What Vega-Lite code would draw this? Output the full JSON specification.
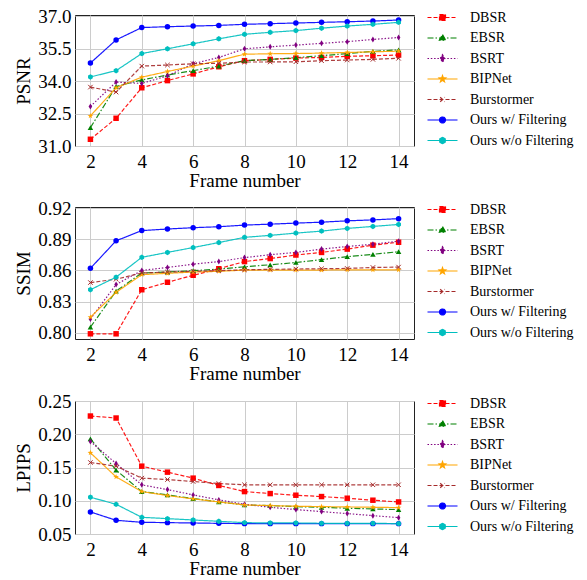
{
"$schema": "https://vega.github.io/schema/vega-lite/v6.json",
"padding": {"left": 14, "top": 6, "right": 16, "bottom": 2},
"background": "white",
"datasets": {"d": [
{"m":"PSNR","s":"DBSR","f":2,"v":31.31},{"m":"PSNR","s":"DBSR","f":3,"v":32.28},{"m":"PSNR","s":"DBSR","f":4,"v":33.69},{"m":"PSNR","s":"DBSR","f":5,"v":34.02},{"m":"PSNR","s":"DBSR","f":6,"v":34.33},{"m":"PSNR","s":"DBSR","f":7,"v":34.66},{"m":"PSNR","s":"DBSR","f":8,"v":34.94},{"m":"PSNR","s":"DBSR","f":9,"v":35.0},{"m":"PSNR","s":"DBSR","f":10,"v":35.06},{"m":"PSNR","s":"DBSR","f":11,"v":35.09},{"m":"PSNR","s":"DBSR","f":12,"v":35.14},{"m":"PSNR","s":"DBSR","f":13,"v":35.17},{"m":"PSNR","s":"DBSR","f":14,"v":35.2},
{"m":"PSNR","s":"EBSR","f":2,"v":31.85},{"m":"PSNR","s":"EBSR","f":3,"v":33.75},{"m":"PSNR","s":"EBSR","f":4,"v":34.05},{"m":"PSNR","s":"EBSR","f":5,"v":34.28},{"m":"PSNR","s":"EBSR","f":6,"v":34.48},{"m":"PSNR","s":"EBSR","f":7,"v":34.69},{"m":"PSNR","s":"EBSR","f":8,"v":34.94},{"m":"PSNR","s":"EBSR","f":9,"v":35.0},{"m":"PSNR","s":"EBSR","f":10,"v":35.08},{"m":"PSNR","s":"EBSR","f":11,"v":35.17},{"m":"PSNR","s":"EBSR","f":12,"v":35.27},{"m":"PSNR","s":"EBSR","f":13,"v":35.37},{"m":"PSNR","s":"EBSR","f":14,"v":35.44},
{"m":"PSNR","s":"BSRT","f":2,"v":32.83},{"m":"PSNR","s":"BSRT","f":3,"v":33.95},{"m":"PSNR","s":"BSRT","f":4,"v":33.89},{"m":"PSNR","s":"BSRT","f":5,"v":34.24},{"m":"PSNR","s":"BSRT","f":6,"v":34.8},{"m":"PSNR","s":"BSRT","f":7,"v":35.09},{"m":"PSNR","s":"BSRT","f":8,"v":35.49},{"m":"PSNR","s":"BSRT","f":9,"v":35.58},{"m":"PSNR","s":"BSRT","f":10,"v":35.66},{"m":"PSNR","s":"BSRT","f":11,"v":35.74},{"m":"PSNR","s":"BSRT","f":12,"v":35.82},{"m":"PSNR","s":"BSRT","f":13,"v":35.92},{"m":"PSNR","s":"BSRT","f":14,"v":36.01},
{"m":"PSNR","s":"BIPNet","f":2,"v":32.39},{"m":"PSNR","s":"BIPNet","f":3,"v":33.69},{"m":"PSNR","s":"BIPNet","f":4,"v":34.18},{"m":"PSNR","s":"BIPNet","f":5,"v":34.44},{"m":"PSNR","s":"BIPNet","f":6,"v":34.69},{"m":"PSNR","s":"BIPNet","f":7,"v":34.94},{"m":"PSNR","s":"BIPNet","f":8,"v":35.24},{"m":"PSNR","s":"BIPNet","f":9,"v":35.26},{"m":"PSNR","s":"BIPNet","f":10,"v":35.27},{"m":"PSNR","s":"BIPNet","f":11,"v":35.29},{"m":"PSNR","s":"BIPNet","f":12,"v":35.32},{"m":"PSNR","s":"BIPNet","f":13,"v":35.35},{"m":"PSNR","s":"BIPNet","f":14,"v":35.38},
{"m":"PSNR","s":"Burstormer","f":2,"v":33.72},{"m":"PSNR","s":"Burstormer","f":3,"v":33.49},{"m":"PSNR","s":"Burstormer","f":4,"v":34.69},{"m":"PSNR","s":"Burstormer","f":5,"v":34.74},{"m":"PSNR","s":"Burstormer","f":6,"v":34.8},{"m":"PSNR","s":"Burstormer","f":7,"v":34.82},{"m":"PSNR","s":"Burstormer","f":8,"v":34.88},{"m":"PSNR","s":"Burstormer","f":9,"v":34.88},{"m":"PSNR","s":"Burstormer","f":10,"v":34.89},{"m":"PSNR","s":"Burstormer","f":11,"v":34.94},{"m":"PSNR","s":"Burstormer","f":12,"v":34.97},{"m":"PSNR","s":"Burstormer","f":13,"v":35.0},{"m":"PSNR","s":"Burstormer","f":14,"v":35.05},
{"m":"PSNR","s":"Ours w/ Filtering","f":2,"v":34.83},{"m":"PSNR","s":"Ours w/ Filtering","f":3,"v":35.9},{"m":"PSNR","s":"Ours w/ Filtering","f":4,"v":36.47},{"m":"PSNR","s":"Ours w/ Filtering","f":5,"v":36.51},{"m":"PSNR","s":"Ours w/ Filtering","f":6,"v":36.54},{"m":"PSNR","s":"Ours w/ Filtering","f":7,"v":36.57},{"m":"PSNR","s":"Ours w/ Filtering","f":8,"v":36.62},{"m":"PSNR","s":"Ours w/ Filtering","f":9,"v":36.65},{"m":"PSNR","s":"Ours w/ Filtering","f":10,"v":36.68},{"m":"PSNR","s":"Ours w/ Filtering","f":11,"v":36.71},{"m":"PSNR","s":"Ours w/ Filtering","f":12,"v":36.74},{"m":"PSNR","s":"Ours w/ Filtering","f":13,"v":36.77},{"m":"PSNR","s":"Ours w/ Filtering","f":14,"v":36.82},
{"m":"PSNR","s":"Ours w/o Filtering","f":2,"v":34.19},{"m":"PSNR","s":"Ours w/o Filtering","f":3,"v":34.48},{"m":"PSNR","s":"Ours w/o Filtering","f":4,"v":35.27},{"m":"PSNR","s":"Ours w/o Filtering","f":5,"v":35.49},{"m":"PSNR","s":"Ours w/o Filtering","f":6,"v":35.72},{"m":"PSNR","s":"Ours w/o Filtering","f":7,"v":35.95},{"m":"PSNR","s":"Ours w/o Filtering","f":8,"v":36.16},{"m":"PSNR","s":"Ours w/o Filtering","f":9,"v":36.25},{"m":"PSNR","s":"Ours w/o Filtering","f":10,"v":36.33},{"m":"PSNR","s":"Ours w/o Filtering","f":11,"v":36.44},{"m":"PSNR","s":"Ours w/o Filtering","f":12,"v":36.54},{"m":"PSNR","s":"Ours w/o Filtering","f":13,"v":36.62},{"m":"PSNR","s":"Ours w/o Filtering","f":14,"v":36.71},
{"m":"SSIM","s":"DBSR","f":2,"v":0.799},{"m":"SSIM","s":"DBSR","f":3,"v":0.799},{"m":"SSIM","s":"DBSR","f":4,"v":0.8414},{"m":"SSIM","s":"DBSR","f":5,"v":0.8486},{"m":"SSIM","s":"DBSR","f":6,"v":0.8553},{"m":"SSIM","s":"DBSR","f":7,"v":0.8616},{"m":"SSIM","s":"DBSR","f":8,"v":0.8685},{"m":"SSIM","s":"DBSR","f":9,"v":0.8714},{"m":"SSIM","s":"DBSR","f":10,"v":0.8748},{"m":"SSIM","s":"DBSR","f":11,"v":0.8773},{"m":"SSIM","s":"DBSR","f":12,"v":0.8805},{"m":"SSIM","s":"DBSR","f":13,"v":0.8843},{"m":"SSIM","s":"DBSR","f":14,"v":0.8871},
{"m":"SSIM","s":"EBSR","f":2,"v":0.8054},{"m":"SSIM","s":"EBSR","f":3,"v":0.8401},{"m":"SSIM","s":"EBSR","f":4,"v":0.8575},{"m":"SSIM","s":"EBSR","f":5,"v":0.8584},{"m":"SSIM","s":"EBSR","f":6,"v":0.8597},{"m":"SSIM","s":"EBSR","f":7,"v":0.8613},{"m":"SSIM","s":"EBSR","f":8,"v":0.8635},{"m":"SSIM","s":"EBSR","f":9,"v":0.8654},{"m":"SSIM","s":"EBSR","f":10,"v":0.8676},{"m":"SSIM","s":"EBSR","f":11,"v":0.8704},{"m":"SSIM","s":"EBSR","f":12,"v":0.8732},{"m":"SSIM","s":"EBSR","f":13,"v":0.8755},{"m":"SSIM","s":"EBSR","f":14,"v":0.878},
{"m":"SSIM","s":"BSRT","f":2,"v":0.8133},{"m":"SSIM","s":"BSRT","f":3,"v":0.8464},{"m":"SSIM","s":"BSRT","f":4,"v":0.86},{"m":"SSIM","s":"BSRT","f":5,"v":0.8628},{"m":"SSIM","s":"BSRT","f":6,"v":0.866},{"m":"SSIM","s":"BSRT","f":7,"v":0.8685},{"m":"SSIM","s":"BSRT","f":8,"v":0.8723},{"m":"SSIM","s":"BSRT","f":9,"v":0.8751},{"m":"SSIM","s":"BSRT","f":10,"v":0.8773},{"m":"SSIM","s":"BSRT","f":11,"v":0.8805},{"m":"SSIM","s":"BSRT","f":12,"v":0.883},{"m":"SSIM","s":"BSRT","f":13,"v":0.8852},{"m":"SSIM","s":"BSRT","f":14,"v":0.8881},
{"m":"SSIM","s":"BIPNet","f":2,"v":0.815},{"m":"SSIM","s":"BIPNet","f":3,"v":0.8389},{"m":"SSIM","s":"BIPNet","f":4,"v":0.8559},{"m":"SSIM","s":"BIPNet","f":5,"v":0.8572},{"m":"SSIM","s":"BIPNet","f":6,"v":0.8584},{"m":"SSIM","s":"BIPNet","f":7,"v":0.8591},{"m":"SSIM","s":"BIPNet","f":8,"v":0.8603},{"m":"SSIM","s":"BIPNet","f":9,"v":0.8603},{"m":"SSIM","s":"BIPNet","f":10,"v":0.8603},{"m":"SSIM","s":"BIPNet","f":11,"v":0.8603},{"m":"SSIM","s":"BIPNet","f":12,"v":0.8606},{"m":"SSIM","s":"BIPNet","f":13,"v":0.8606},{"m":"SSIM","s":"BIPNet","f":14,"v":0.8606},
{"m":"SSIM","s":"Burstormer","f":2,"v":0.8483},{"m":"SSIM","s":"Burstormer","f":3,"v":0.8515},{"m":"SSIM","s":"Burstormer","f":4,"v":0.8575},{"m":"SSIM","s":"Burstormer","f":5,"v":0.8584},{"m":"SSIM","s":"Burstormer","f":6,"v":0.8591},{"m":"SSIM","s":"Burstormer","f":7,"v":0.8597},{"m":"SSIM","s":"Burstormer","f":8,"v":0.8606},{"m":"SSIM","s":"Burstormer","f":9,"v":0.861},{"m":"SSIM","s":"Burstormer","f":10,"v":0.8613},{"m":"SSIM","s":"Burstormer","f":11,"v":0.8616},{"m":"SSIM","s":"Burstormer","f":12,"v":0.8619},{"m":"SSIM","s":"Burstormer","f":13,"v":0.8628},{"m":"SSIM","s":"Burstormer","f":14,"v":0.8632},
{"m":"SSIM","s":"Ours w/ Filtering","f":2,"v":0.862},{"m":"SSIM","s":"Ours w/ Filtering","f":3,"v":0.8885},{"m":"SSIM","s":"Ours w/ Filtering","f":4,"v":0.8983},{"m":"SSIM","s":"Ours w/ Filtering","f":5,"v":0.8998},{"m":"SSIM","s":"Ours w/ Filtering","f":6,"v":0.9011},{"m":"SSIM","s":"Ours w/ Filtering","f":7,"v":0.902},{"m":"SSIM","s":"Ours w/ Filtering","f":8,"v":0.9036},{"m":"SSIM","s":"Ours w/ Filtering","f":9,"v":0.9045},{"m":"SSIM","s":"Ours w/ Filtering","f":10,"v":0.9055},{"m":"SSIM","s":"Ours w/ Filtering","f":11,"v":0.9064},{"m":"SSIM","s":"Ours w/ Filtering","f":12,"v":0.9077},{"m":"SSIM","s":"Ours w/ Filtering","f":13,"v":0.9086},{"m":"SSIM","s":"Ours w/ Filtering","f":14,"v":0.9098},
{"m":"SSIM","s":"Ours w/o Filtering","f":2,"v":0.8414},{"m":"SSIM","s":"Ours w/o Filtering","f":3,"v":0.8535},{"m":"SSIM","s":"Ours w/o Filtering","f":4,"v":0.8726},{"m":"SSIM","s":"Ours w/o Filtering","f":5,"v":0.8773},{"m":"SSIM","s":"Ours w/o Filtering","f":6,"v":0.8820},{"m":"SSIM","s":"Ours w/o Filtering","f":7,"v":0.8868},{"m":"SSIM","s":"Ours w/o Filtering","f":8,"v":0.8918},{"m":"SSIM","s":"Ours w/o Filtering","f":9,"v":0.8937},{"m":"SSIM","s":"Ours w/o Filtering","f":10,"v":0.8959},{"m":"SSIM","s":"Ours w/o Filtering","f":11,"v":0.8978},{"m":"SSIM","s":"Ours w/o Filtering","f":12,"v":0.9004},{"m":"SSIM","s":"Ours w/o Filtering","f":13,"v":0.9023},{"m":"SSIM","s":"Ours w/o Filtering","f":14,"v":0.9042},
{"m":"LPIPS","s":"DBSR","f":2,"v":0.2274},{"m":"LPIPS","s":"DBSR","f":3,"v":0.2244},{"m":"LPIPS","s":"DBSR","f":4,"v":0.152},{"m":"LPIPS","s":"DBSR","f":5,"v":0.143},{"m":"LPIPS","s":"DBSR","f":6,"v":0.134},{"m":"LPIPS","s":"DBSR","f":7,"v":0.123},{"m":"LPIPS","s":"DBSR","f":8,"v":0.1138},{"m":"LPIPS","s":"DBSR","f":9,"v":0.1108},{"m":"LPIPS","s":"DBSR","f":10,"v":0.1083},{"m":"LPIPS","s":"DBSR","f":11,"v":0.1063},{"m":"LPIPS","s":"DBSR","f":12,"v":0.1038},{"m":"LPIPS","s":"DBSR","f":13,"v":0.1008},{"m":"LPIPS","s":"DBSR","f":14,"v":0.0982},
{"m":"LPIPS","s":"EBSR","f":2,"v":0.1932},{"m":"LPIPS","s":"EBSR","f":3,"v":0.146},{"m":"LPIPS","s":"EBSR","f":4,"v":0.1138},{"m":"LPIPS","s":"EBSR","f":5,"v":0.1088},{"m":"LPIPS","s":"EBSR","f":6,"v":0.1033},{"m":"LPIPS","s":"EBSR","f":7,"v":0.0982},{"m":"LPIPS","s":"EBSR","f":8,"v":0.0937},{"m":"LPIPS","s":"EBSR","f":9,"v":0.0927},{"m":"LPIPS","s":"EBSR","f":10,"v":0.0912},{"m":"LPIPS","s":"EBSR","f":11,"v":0.0902},{"m":"LPIPS","s":"EBSR","f":12,"v":0.0887},{"m":"LPIPS","s":"EBSR","f":13,"v":0.0877},{"m":"LPIPS","s":"EBSR","f":14,"v":0.0867},
{"m":"LPIPS","s":"BSRT","f":2,"v":0.1892},{"m":"LPIPS","s":"BSRT","f":3,"v":0.156},{"m":"LPIPS","s":"BSRT","f":4,"v":0.1239},{"m":"LPIPS","s":"BSRT","f":5,"v":0.1168},{"m":"LPIPS","s":"BSRT","f":6,"v":0.1088},{"m":"LPIPS","s":"BSRT","f":7,"v":0.1013},{"m":"LPIPS","s":"BSRT","f":8,"v":0.0947},{"m":"LPIPS","s":"BSRT","f":9,"v":0.0902},{"m":"LPIPS","s":"BSRT","f":10,"v":0.0867},{"m":"LPIPS","s":"BSRT","f":11,"v":0.0837},{"m":"LPIPS","s":"BSRT","f":12,"v":0.0807},{"m":"LPIPS","s":"BSRT","f":13,"v":0.0776},{"m":"LPIPS","s":"BSRT","f":14,"v":0.0746},
{"m":"LPIPS","s":"BIPNet","f":2,"v":0.1721},{"m":"LPIPS","s":"BIPNet","f":3,"v":0.1359},{"m":"LPIPS","s":"BIPNet","f":4,"v":0.1138},{"m":"LPIPS","s":"BIPNet","f":5,"v":0.1078},{"m":"LPIPS","s":"BIPNet","f":6,"v":0.1028},{"m":"LPIPS","s":"BIPNet","f":7,"v":0.0982},{"m":"LPIPS","s":"BIPNet","f":8,"v":0.0937},{"m":"LPIPS","s":"BIPNet","f":9,"v":0.0927},{"m":"LPIPS","s":"BIPNet","f":10,"v":0.0917},{"m":"LPIPS","s":"BIPNet","f":11,"v":0.0912},{"m":"LPIPS","s":"BIPNet","f":12,"v":0.0907},{"m":"LPIPS","s":"BIPNet","f":13,"v":0.0902},{"m":"LPIPS","s":"BIPNet","f":14,"v":0.0897},
{"m":"LPIPS","s":"Burstormer","f":2,"v":0.1575},{"m":"LPIPS","s":"Burstormer","f":3,"v":0.152},{"m":"LPIPS","s":"Burstormer","f":4,"v":0.134},{"m":"LPIPS","s":"Burstormer","f":5,"v":0.1319},{"m":"LPIPS","s":"Burstormer","f":6,"v":0.1289},{"m":"LPIPS","s":"Burstormer","f":7,"v":0.1259},{"m":"LPIPS","s":"Burstormer","f":8,"v":0.124},{"m":"LPIPS","s":"Burstormer","f":9,"v":0.124},{"m":"LPIPS","s":"Burstormer","f":10,"v":0.124},{"m":"LPIPS","s":"Burstormer","f":11,"v":0.124},{"m":"LPIPS","s":"Burstormer","f":12,"v":0.124},{"m":"LPIPS","s":"Burstormer","f":13,"v":0.124},{"m":"LPIPS","s":"Burstormer","f":14,"v":0.124},
{"m":"LPIPS","s":"Ours w/ Filtering","f":2,"v":0.0832},{"m":"LPIPS","s":"Ours w/ Filtering","f":3,"v":0.0706},{"m":"LPIPS","s":"Ours w/ Filtering","f":4,"v":0.0676},{"m":"LPIPS","s":"Ours w/ Filtering","f":5,"v":0.0671},{"m":"LPIPS","s":"Ours w/ Filtering","f":6,"v":0.0666},{"m":"LPIPS","s":"Ours w/ Filtering","f":7,"v":0.066},{"m":"LPIPS","s":"Ours w/ Filtering","f":8,"v":0.0656},{"m":"LPIPS","s":"Ours w/ Filtering","f":9,"v":0.0656},{"m":"LPIPS","s":"Ours w/ Filtering","f":10,"v":0.0656},{"m":"LPIPS","s":"Ours w/ Filtering","f":11,"v":0.0656},{"m":"LPIPS","s":"Ours w/ Filtering","f":12,"v":0.0656},{"m":"LPIPS","s":"Ours w/ Filtering","f":13,"v":0.0656},{"m":"LPIPS","s":"Ours w/ Filtering","f":14,"v":0.0656},
{"m":"LPIPS","s":"Ours w/o Filtering","f":2,"v":0.1053},{"m":"LPIPS","s":"Ours w/o Filtering","f":3,"v":0.0947},{"m":"LPIPS","s":"Ours w/o Filtering","f":4,"v":0.0751},{"m":"LPIPS","s":"Ours w/o Filtering","f":5,"v":0.0731},{"m":"LPIPS","s":"Ours w/o Filtering","f":6,"v":0.0711},{"m":"LPIPS","s":"Ours w/o Filtering","f":7,"v":0.0691},{"m":"LPIPS","s":"Ours w/o Filtering","f":8,"v":0.0671},{"m":"LPIPS","s":"Ours w/o Filtering","f":9,"v":0.0666},{"m":"LPIPS","s":"Ours w/o Filtering","f":10,"v":0.0666},{"m":"LPIPS","s":"Ours w/o Filtering","f":11,"v":0.0661},{"m":"LPIPS","s":"Ours w/o Filtering","f":12,"v":0.0661},{"m":"LPIPS","s":"Ours w/o Filtering","f":13,"v":0.0661},{"m":"LPIPS","s":"Ours w/o Filtering","f":14,"v":0.0656}
]},
"config": {
  "font": "Liberation Serif",
  "view": {"stroke": "#222", "strokeWidth": 1},
  "axis": {"labelFont": "Liberation Serif", "titleFont": "Liberation Serif", "labelFontSize": 19, "titleFontSize": 19, "titleFontWeight": "normal", "labelColor": "#000", "titleColor": "#000", "ticks": false, "labelPadding": 4, "gridColor": "#cccccc", "gridWidth": 1, "domain": false},
  "axisX": {"titlePadding": 0, "labelPadding": 6},
  "axisY": {"titlePadding": 4},
  "legend": {"labelFont": "Liberation Serif", "labelFontSize": 14, "labelColor": "#000", "symbolSize": 225, "symbolStrokeWidth": 1.2, "symbolOpacity": 1, "rowPadding": 4.5, "labelOffset": 19, "offset": 26, "orient": "right", "padding": -6, "labelLimit": 200},
  "concat": {"spacing": 7}
},
"resolve": {"scale": {"y": "independent", "color": "independent", "stroke": "independent", "shape": "independent", "strokeDash": "independent"}, "legend": {"color": "independent", "stroke": "independent", "shape": "independent", "strokeDash": "independent"}},
"vconcat": [
{
 "width": 339, "height": 131,
 "data": {"name": "d"},
 "transform": [{"filter": "datum.m === 'PSNR'"}],
 "encoding": {
  "x": {"field": "f", "type": "quantitative", "scale": {"domain": [1.4, 14.6], "nice": false, "zero": false}, "axis": {"values": [2,4,6,8,10,12,14], "title": "Frame number"}},
  "y": {"field": "v", "type": "quantitative", "scale": {"domain": [31, 37.05], "nice": false, "zero": false}, "axis": {"values": [31,32.5,34,35.5,37], "format": ".1f", "title": "PSNR"}}
 },
 "layer": [
  {"mark": {"type": "point", "filled": true, "opacity": 0, "strokeWidth": 1.2},
   "encoding": {
    "color": {"field": "s", "type": "nominal", "scale": {"domain": ["DBSR","EBSR","BSRT","BIPNet","Burstormer","Ours w/ Filtering","Ours w/o Filtering"], "range": ["#ff0000","#008000","#800080","#ffa500","#a52a2a","#0000ff","#00bfbf"]}, "legend": {"title": null}},
    "stroke": {"field": "s", "type": "nominal", "scale": {"domain": ["DBSR","EBSR","BSRT","BIPNet","Burstormer","Ours w/ Filtering","Ours w/o Filtering"], "range": ["#ff0000","#008000","#800080","#ffa500","#a52a2a","#0000ff","#00bfbf"]}, "legend": {"title": null}},
    "shape": {"field": "s", "type": "nominal", "scale": {"domain": ["DBSR","EBSR","BSRT","BIPNet","Burstormer","Ours w/ Filtering","Ours w/o Filtering"], "range": ["M-2,0L2,0M-0.4,-0.4L0.4,-0.4L0.4,0.4L-0.4,0.4Z","M-2,0L2,0M0,-0.45L0.42,0.3L-0.42,0.3Z","M-2,0L2,0M0,-0.5L0.3,0L0,0.5L-0.3,0Z","M-2,0L2,0M0,-0.45L0.106,-0.146L0.428,-0.139L0.171,0.056L0.265,0.364L0,0.18L-0.265,0.364L-0.171,0.056L-0.428,-0.139L-0.106,-0.146Z","M-2,0L2,0M-0.3,-0.3L0.3,0.3M-0.3,0.3L0.3,-0.3","M-2,0L2,0M-0.4,0A0.4,0.4,0,1,1,0.4,0A0.4,0.4,0,1,1,-0.4,0Z","M-2,0L2,0M0,-0.42L0.364,-0.21L0.364,0.21L0,0.42L-0.364,0.21L-0.364,-0.21Z"]}, "legend": {"title": null}},
    "strokeDash": {"field": "s", "type": "nominal", "scale": {"domain": ["DBSR","EBSR","BSRT","BIPNet","Burstormer","Ours w/ Filtering","Ours w/o Filtering"], "range": [[4,2],[6,2,1.5,2],[1.5,1.8],[1,0],[4,2],[1,0],[1,0]]}, "legend": {"title": null}}
   }},
  {"mark": {"type": "line", "strokeWidth": 1.2, "opacity": 0.9},
   "encoding": {
    "color": {"field": "s", "type": "nominal"},
    "strokeDash": {"field": "s", "type": "nominal"}
   }},
  {"transform": [{"filter": "datum.s === 'DBSR'"}], "mark": {"type": "point", "filled": true, "shape": "square", "size": 30, "color": "#ff0000", "opacity": 1}},
  {"transform": [{"filter": "datum.s === 'EBSR'"}], "mark": {"type": "point", "filled": true, "shape": "triangle-up", "size": 30, "color": "#008000", "opacity": 1}},
  {"transform": [{"filter": "datum.s === 'BSRT'"}], "mark": {"type": "point", "filled": true, "shape": "M0,-1L0.6,0L0,1L-0.6,0Z", "size": 36, "color": "#800080", "opacity": 1}},
  {"transform": [{"filter": "datum.s === 'BIPNet'"}], "mark": {"type": "point", "filled": true, "shape": "M0,-1L0.235,-0.324L0.951,-0.309L0.38,0.124L0.588,0.809L0,0.4L-0.588,0.809L-0.38,0.124L-0.951,-0.309L-0.235,-0.324Z", "size": 36, "color": "#ffa500", "opacity": 1}},
  {"transform": [{"filter": "datum.s === 'Burstormer'"}], "mark": {"type": "point", "filled": false, "shape": "M-1,-1L1,1M-1,1L1,-1", "size": 20, "color": "#a52a2a", "strokeWidth": 1, "opacity": 1}},
  {"transform": [{"filter": "datum.s === 'Ours w/ Filtering'"}], "mark": {"type": "point", "filled": true, "shape": "circle", "size": 30, "color": "#0000ff", "opacity": 1}},
  {"transform": [{"filter": "datum.s === 'Ours w/o Filtering'"}], "mark": {"type": "point", "filled": true, "shape": "M0,-1L0.866,-0.5L0.866,0.5L0,1L-0.866,0.5L-0.866,-0.5Z", "size": 30, "color": "#00bfbf", "opacity": 1}}
 ]
},
{
 "width": 339, "height": 132,
 "data": {"name": "d"},
 "transform": [{"filter": "datum.m === 'SSIM'"}],
 "encoding": {
  "x": {"field": "f", "type": "quantitative", "scale": {"domain": [1.4, 14.6], "nice": false, "zero": false}, "axis": {"values": [2,4,6,8,10,12,14], "title": "Frame number"}},
  "y": {"field": "v", "type": "quantitative", "scale": {"domain": [0.794, 0.921], "nice": false, "zero": false}, "axis": {"values": [0.80,0.83,0.86,0.89,0.92], "format": ".2f", "title": "SSIM"}}
 },
 "layer": [
  {"mark": {"type": "point", "filled": true, "opacity": 0, "strokeWidth": 1.2},
   "encoding": {
    "color": {"field": "s", "type": "nominal", "scale": {"domain": ["DBSR","EBSR","BSRT","BIPNet","Burstormer","Ours w/ Filtering","Ours w/o Filtering"], "range": ["#ff0000","#008000","#800080","#ffa500","#a52a2a","#0000ff","#00bfbf"]}, "legend": {"title": null}},
    "stroke": {"field": "s", "type": "nominal", "scale": {"domain": ["DBSR","EBSR","BSRT","BIPNet","Burstormer","Ours w/ Filtering","Ours w/o Filtering"], "range": ["#ff0000","#008000","#800080","#ffa500","#a52a2a","#0000ff","#00bfbf"]}, "legend": {"title": null}},
    "shape": {"field": "s", "type": "nominal", "scale": {"domain": ["DBSR","EBSR","BSRT","BIPNet","Burstormer","Ours w/ Filtering","Ours w/o Filtering"], "range": ["M-2,0L2,0M-0.4,-0.4L0.4,-0.4L0.4,0.4L-0.4,0.4Z","M-2,0L2,0M0,-0.45L0.42,0.3L-0.42,0.3Z","M-2,0L2,0M0,-0.5L0.3,0L0,0.5L-0.3,0Z","M-2,0L2,0M0,-0.45L0.106,-0.146L0.428,-0.139L0.171,0.056L0.265,0.364L0,0.18L-0.265,0.364L-0.171,0.056L-0.428,-0.139L-0.106,-0.146Z","M-2,0L2,0M-0.3,-0.3L0.3,0.3M-0.3,0.3L0.3,-0.3","M-2,0L2,0M-0.4,0A0.4,0.4,0,1,1,0.4,0A0.4,0.4,0,1,1,-0.4,0Z","M-2,0L2,0M0,-0.42L0.364,-0.21L0.364,0.21L0,0.42L-0.364,0.21L-0.364,-0.21Z"]}, "legend": {"title": null}},
    "strokeDash": {"field": "s", "type": "nominal", "scale": {"domain": ["DBSR","EBSR","BSRT","BIPNet","Burstormer","Ours w/ Filtering","Ours w/o Filtering"], "range": [[4,2],[6,2,1.5,2],[1.5,1.8],[1,0],[4,2],[1,0],[1,0]]}, "legend": {"title": null}}
   }},
  {"mark": {"type": "line", "strokeWidth": 1.2, "opacity": 0.9},
   "encoding": {
    "color": {"field": "s", "type": "nominal"},
    "strokeDash": {"field": "s", "type": "nominal"}
   }},
  {"transform": [{"filter": "datum.s === 'DBSR'"}], "mark": {"type": "point", "filled": true, "shape": "square", "size": 30, "color": "#ff0000", "opacity": 1}},
  {"transform": [{"filter": "datum.s === 'EBSR'"}], "mark": {"type": "point", "filled": true, "shape": "triangle-up", "size": 30, "color": "#008000", "opacity": 1}},
  {"transform": [{"filter": "datum.s === 'BSRT'"}], "mark": {"type": "point", "filled": true, "shape": "M0,-1L0.6,0L0,1L-0.6,0Z", "size": 36, "color": "#800080", "opacity": 1}},
  {"transform": [{"filter": "datum.s === 'BIPNet'"}], "mark": {"type": "point", "filled": true, "shape": "M0,-1L0.235,-0.324L0.951,-0.309L0.38,0.124L0.588,0.809L0,0.4L-0.588,0.809L-0.38,0.124L-0.951,-0.309L-0.235,-0.324Z", "size": 36, "color": "#ffa500", "opacity": 1}},
  {"transform": [{"filter": "datum.s === 'Burstormer'"}], "mark": {"type": "point", "filled": false, "shape": "M-1,-1L1,1M-1,1L1,-1", "size": 20, "color": "#a52a2a", "strokeWidth": 1, "opacity": 1}},
  {"transform": [{"filter": "datum.s === 'Ours w/ Filtering'"}], "mark": {"type": "point", "filled": true, "shape": "circle", "size": 30, "color": "#0000ff", "opacity": 1}},
  {"transform": [{"filter": "datum.s === 'Ours w/o Filtering'"}], "mark": {"type": "point", "filled": true, "shape": "M0,-1L0.866,-0.5L0.866,0.5L0,1L-0.866,0.5L-0.866,-0.5Z", "size": 30, "color": "#00bfbf", "opacity": 1}}
 ]
},
{
 "width": 339, "height": 133,
 "data": {"name": "d"},
 "transform": [{"filter": "datum.m === 'LPIPS'"}],
 "encoding": {
  "x": {"field": "f", "type": "quantitative", "scale": {"domain": [1.4, 14.6], "nice": false, "zero": false}, "axis": {"values": [2,4,6,8,10,12,14], "title": "Frame number"}},
  "y": {"field": "v", "type": "quantitative", "scale": {"domain": [0.05, 0.25], "nice": false, "zero": false}, "axis": {"values": [0.05,0.10,0.15,0.20,0.25], "format": ".2f", "title": "LPIPS"}}
 },
 "layer": [
  {"mark": {"type": "point", "filled": true, "opacity": 0, "strokeWidth": 1.2},
   "encoding": {
    "color": {"field": "s", "type": "nominal", "scale": {"domain": ["DBSR","EBSR","BSRT","BIPNet","Burstormer","Ours w/ Filtering","Ours w/o Filtering"], "range": ["#ff0000","#008000","#800080","#ffa500","#a52a2a","#0000ff","#00bfbf"]}, "legend": {"title": null}},
    "stroke": {"field": "s", "type": "nominal", "scale": {"domain": ["DBSR","EBSR","BSRT","BIPNet","Burstormer","Ours w/ Filtering","Ours w/o Filtering"], "range": ["#ff0000","#008000","#800080","#ffa500","#a52a2a","#0000ff","#00bfbf"]}, "legend": {"title": null}},
    "shape": {"field": "s", "type": "nominal", "scale": {"domain": ["DBSR","EBSR","BSRT","BIPNet","Burstormer","Ours w/ Filtering","Ours w/o Filtering"], "range": ["M-2,0L2,0M-0.4,-0.4L0.4,-0.4L0.4,0.4L-0.4,0.4Z","M-2,0L2,0M0,-0.45L0.42,0.3L-0.42,0.3Z","M-2,0L2,0M0,-0.5L0.3,0L0,0.5L-0.3,0Z","M-2,0L2,0M0,-0.45L0.106,-0.146L0.428,-0.139L0.171,0.056L0.265,0.364L0,0.18L-0.265,0.364L-0.171,0.056L-0.428,-0.139L-0.106,-0.146Z","M-2,0L2,0M-0.3,-0.3L0.3,0.3M-0.3,0.3L0.3,-0.3","M-2,0L2,0M-0.4,0A0.4,0.4,0,1,1,0.4,0A0.4,0.4,0,1,1,-0.4,0Z","M-2,0L2,0M0,-0.42L0.364,-0.21L0.364,0.21L0,0.42L-0.364,0.21L-0.364,-0.21Z"]}, "legend": {"title": null}},
    "strokeDash": {"field": "s", "type": "nominal", "scale": {"domain": ["DBSR","EBSR","BSRT","BIPNet","Burstormer","Ours w/ Filtering","Ours w/o Filtering"], "range": [[4,2],[6,2,1.5,2],[1.5,1.8],[1,0],[4,2],[1,0],[1,0]]}, "legend": {"title": null}}
   }},
  {"mark": {"type": "line", "strokeWidth": 1.2, "opacity": 0.9},
   "encoding": {
    "color": {"field": "s", "type": "nominal"},
    "strokeDash": {"field": "s", "type": "nominal"}
   }},
  {"transform": [{"filter": "datum.s === 'DBSR'"}], "mark": {"type": "point", "filled": true, "shape": "square", "size": 30, "color": "#ff0000", "opacity": 1}},
  {"transform": [{"filter": "datum.s === 'EBSR'"}], "mark": {"type": "point", "filled": true, "shape": "triangle-up", "size": 30, "color": "#008000", "opacity": 1}},
  {"transform": [{"filter": "datum.s === 'BSRT'"}], "mark": {"type": "point", "filled": true, "shape": "M0,-1L0.6,0L0,1L-0.6,0Z", "size": 36, "color": "#800080", "opacity": 1}},
  {"transform": [{"filter": "datum.s === 'BIPNet'"}], "mark": {"type": "point", "filled": true, "shape": "M0,-1L0.235,-0.324L0.951,-0.309L0.38,0.124L0.588,0.809L0,0.4L-0.588,0.809L-0.38,0.124L-0.951,-0.309L-0.235,-0.324Z", "size": 36, "color": "#ffa500", "opacity": 1}},
  {"transform": [{"filter": "datum.s === 'Burstormer'"}], "mark": {"type": "point", "filled": false, "shape": "M-1,-1L1,1M-1,1L1,-1", "size": 20, "color": "#a52a2a", "strokeWidth": 1, "opacity": 1}},
  {"transform": [{"filter": "datum.s === 'Ours w/ Filtering'"}], "mark": {"type": "point", "filled": true, "shape": "circle", "size": 30, "color": "#0000ff", "opacity": 1}},
  {"transform": [{"filter": "datum.s === 'Ours w/o Filtering'"}], "mark": {"type": "point", "filled": true, "shape": "M0,-1L0.866,-0.5L0.866,0.5L0,1L-0.866,0.5L-0.866,-0.5Z", "size": 30, "color": "#00bfbf", "opacity": 1}}
 ]
}
]
}
